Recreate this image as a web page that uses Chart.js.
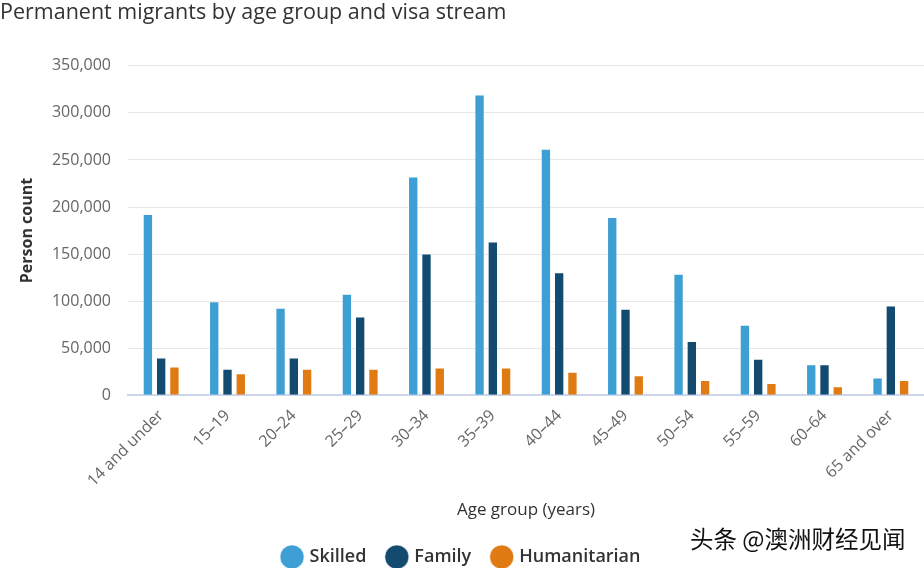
<!DOCTYPE html>
<html>
<head>
<meta charset="utf-8">
<script src="https://cdn.jsdelivr.net/npm/chart.js@4/dist/chart.umd.min.js"></script>
<style>
  html, body { margin: 0; padding: 0; background: #fff; }
  #wrap { position: relative; width: 924px; height: 568px; }
  #mark { position: absolute; left: 690px; top: 521px; font-family: "Noto Sans CJK SC"; font-size: 23.5px; color: #111; }
</style>
</head>
<body>
<div id="wrap">
  <canvas id="chart" width="924" height="568"></canvas>
  <div id="mark">头条 @澳洲财经见闻</div>
</div>
<script>
const ageGroups = ['14 and under', '15–19', '20–24', '25–29', '30–34', '35–39', '40–44', '45–49', '50–54', '55–59', '60–64', '65 and over'];
const skilled = [192500, 100000, 92900, 107800, 232300, 319600, 261900, 189300, 129200, 75000, 33100, 18800];
const family = [40100, 28100, 40100, 83600, 150500, 163400, 130600, 91800, 57700, 38800, 33100, 95300];
const humanitarian = [30500, 23500, 28100, 28100, 29500, 29500, 24900, 21400, 16300, 13100, 9600, 16300];
const yTicks = [0, 50000, 100000, 150000, 200000, 250000, 300000, 350000];

const font = '"Open Sans", sans-serif';

function makeChart(ctx) {
    return new Chart(ctx, {
        type: 'bar',
        data: {
            labels: ageGroups,
            datasets: [
                { label: 'Skilled', data: skilled, backgroundColor: '#3d9fd3', borderColor: 'rgba(255,255,255,0.6)', borderWidth: 1 },
                { label: 'Family', data: family, backgroundColor: '#134a70', borderColor: 'rgba(255,255,255,0.6)', borderWidth: 1 },
                { label: 'Humanitarian', data: humanitarian, backgroundColor: '#e07b14', borderColor: 'rgba(255,255,255,0.6)', borderWidth: 1 }
            ]
        },
        options: {
            responsive: false,
            animation: false,
            categoryPercentage: 0.6,
            barPercentage: 0.78,
            layout: { padding: { left: 0, right: 0, top: 0, bottom: -8 } },
            plugins: {
                title: {
                    display: true,
                    text: 'Permanent migrants by age group and visa stream',
                    align: 'start',
                    color: '#333',
                    font: { family: font, size: 21.5, weight: 'normal' },
                    padding: { top: 0, bottom: 40 }
                },
                legend: {
                    position: 'bottom',
                    labels: {
                        usePointStyle: true,
                        pointStyle: 'circle',
                        boxWidth: 17,
                        boxHeight: 17,
                        padding: 22,
                        color: '#333',
                        font: { family: font, size: 18, weight: '600' }
                    }
                },
                tooltip: { enabled: false }
            },
            scales: {
                x: {
                    grid: { display: false },
                    border: { color: '#ccd6eb', width: 2 },
                    ticks: {
                        color: '#666',
                        minRotation: 45,
                        maxRotation: 45,
                        font: { family: font, size: 16 }
                    },
                    title: {
                        display: true,
                        text: 'Age group (years)',
                        color: '#333',
                        font: { family: font, size: 17 },
                        padding: { top: 6, bottom: 6 }
                    }
                },
                y: {
                    min: 0,
                    max: 350000,
                    afterBuildTicks: axis => { axis.ticks = yTicks.map(v => ({ value: v })); },
                    afterFit: axis => { axis.width = 128; },
                    grid: { color: '#e6e6e6', lineWidth: 1, drawTicks: false },
                    border: { display: false },
                    ticks: {
                        color: '#666',
                        padding: 17,
                        font: { family: font, size: 16 },
                        callback: v => v.toLocaleString('en-US')
                    },
                    title: {
                        display: true,
                        text: 'Person count',
                        color: '#333',
                        font: { family: font, size: 16, weight: 'bold' },
                        padding: { top: 18, bottom: 0 }
                    }
                }
            }
        }
    });
}

makeChart(document.getElementById('chart').getContext('2d'));
</script>
</body>
</html>
